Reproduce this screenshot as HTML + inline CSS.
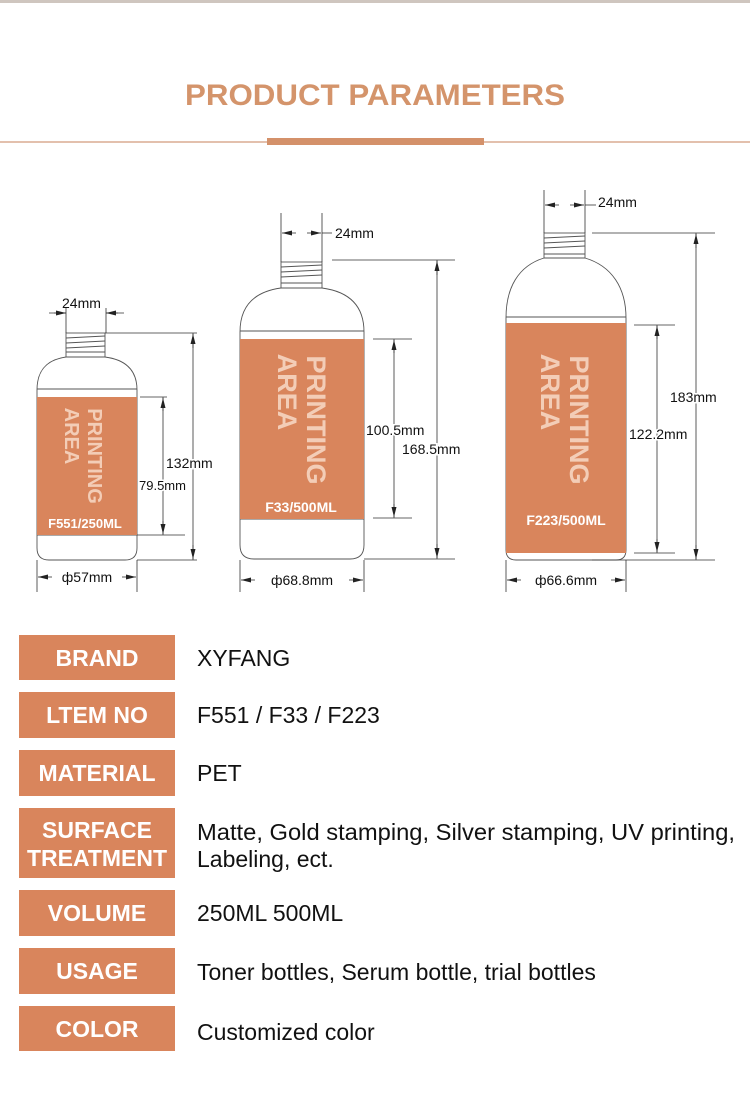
<!DOCTYPE html>
<html><head><meta charset="utf-8"><style>
body{margin:0;width:750px;height:1102px;background:#fff;overflow:hidden;font-family:"Liberation Sans",sans-serif}
</style></head><body>
<svg width="750" height="1102" viewBox="0 0 750 1102" xmlns="http://www.w3.org/2000/svg" font-family="Liberation Sans, sans-serif">
<defs>
<marker id="a" viewBox="0 0 10 5" refX="10" refY="2.5" markerUnits="userSpaceOnUse" markerWidth="10" markerHeight="5" orient="auto-start-reverse"><path d="M0,0 L10,2.5 L0,5 z" fill="#222"/></marker>
</defs>
<rect x="0" y="0" width="750" height="3" fill="#cfc6bf"/>
<text x="375" y="105" text-anchor="middle" font-size="30" font-weight="bold" fill="#d4946b" textLength="380" lengthAdjust="spacingAndGlyphs">PRODUCT  PARAMETERS</text>
<rect x="0" y="141" width="750" height="2" fill="#e3c0ad"/>
<rect x="267" y="138" width="217" height="7" fill="#d4916a"/>

<g stroke="#555" stroke-width="0.9" fill="none">
<rect x="66" y="333" width="39" height="24" fill="#fff"/>
<path d="M66,338 L105,336 M66,343 L105,341 M66,348 L105,346 M66,352 L105,352"/>
<path d="M66,357 C45,360 37,372 37,390 L37,548 Q37,560 49,560 L125,560 Q137,560 137,548 L137,390 C137,372 128,360 105,357 Z" fill="#fff"/>
<line x1="37" y1="389" x2="137" y2="389"/>
<line x1="37" y1="535" x2="137" y2="535"/>
<rect x="281" y="262" width="41" height="26" fill="#fff"/>
<path d="M281,267 L322,265 M281,272 L322,270 M281,277 L322,275 M281,283 L322,283"/>
<path d="M281,288 C252,292 240,308 240,332 L240,545 Q240,559 254,559 L350,559 Q364,559 364,545 L364,332 C364,308 352,292 322,288 Z" fill="#fff"/>
<line x1="240" y1="331" x2="364" y2="331"/>
<line x1="240" y1="519" x2="364" y2="519"/>
<rect x="544" y="233" width="41" height="25" fill="#fff"/>
<path d="M544,238 L585,236 M544,243 L585,241 M544,248 L585,246 M544,254 L585,254"/>
<path d="M544,258 C518,266 506,288 506,318 L506,550 Q506,560 516,560 L616,560 Q626,560 626,550 L626,318 C626,288 612,266 585,258 Z" fill="#fff"/>
<line x1="506" y1="317" x2="626" y2="317"/>
</g>
<rect x="37" y="397" width="100" height="138" fill="#d9855c"/>
<rect x="240" y="339" width="124" height="180" fill="#d9855c"/>
<rect x="506" y="323" width="120" height="230" fill="#d9855c"/>
<g fill="#f3cdb7" font-weight="bold" dominant-baseline="central">
<text transform="translate(94,456) rotate(90)" text-anchor="middle" font-size="20">PRINTING</text>
<text transform="translate(71,436) rotate(90)" text-anchor="middle" font-size="20">AREA</text>
<text transform="translate(316,420) rotate(90)" text-anchor="middle" font-size="27">PRINTING</text>
<text transform="translate(287,392) rotate(90)" text-anchor="middle" font-size="27">AREA</text>
<text transform="translate(579,420) rotate(90)" text-anchor="middle" font-size="27">PRINTING</text>
<text transform="translate(550,392) rotate(90)" text-anchor="middle" font-size="27">AREA</text>
</g>
<g fill="#fff" font-weight="bold" text-anchor="middle">
<text x="85" y="528" font-size="13">F551/250ML</text>
<text x="301" y="512" font-size="14">F33/500ML</text>
<text x="566" y="525" font-size="14">F223/500ML</text>
</g>

<g stroke="#333" stroke-width="0.8" fill="none">
<path d="M66,308 V333 M106,308 V333 M49,313 H66 M106,313 H124"/>
<line x1="54" y1="313" x2="66" y2="313" marker-end="url(#a)"/>
<line x1="118" y1="313" x2="106" y2="313" marker-end="url(#a)"/>
<path d="M105,333 H197 M137,560 H197 M193,333 V560"/>
<line x1="193" y1="348" x2="193" y2="334" marker-end="url(#a)"/>
<line x1="193" y1="545" x2="193" y2="559" marker-end="url(#a)"/>
<path d="M140,397 H167 M137,535 H185 M163,397 V535"/>
<line x1="163" y1="411" x2="163" y2="398" marker-end="url(#a)"/>
<line x1="163" y1="521" x2="163" y2="534" marker-end="url(#a)"/>
<path d="M37,560 V592 M137,560 V592"/>
<line x1="52" y1="577" x2="38" y2="577" marker-end="url(#a)"/>
<line x1="122" y1="577" x2="136" y2="577" marker-end="url(#a)"/>
<path d="M281,213 V262 M322,213 V262"/>
<line x1="296" y1="233" x2="282" y2="233" marker-end="url(#a)"/>
<line x1="307" y1="233" x2="321" y2="233" marker-end="url(#a)"/>
<path d="M322,233 H332"/>
<path d="M332,260 H455 M364,559 H455 M437,260 V559"/>
<line x1="437" y1="275" x2="437" y2="261" marker-end="url(#a)"/>
<line x1="437" y1="544" x2="437" y2="558" marker-end="url(#a)"/>
<path d="M373,339 H412 M373,518 H412 M394,339 V518"/>
<line x1="394" y1="353" x2="394" y2="340" marker-end="url(#a)"/>
<line x1="394" y1="504" x2="394" y2="517" marker-end="url(#a)"/>
<path d="M240,560 V592 M364,560 V592"/>
<line x1="255" y1="580" x2="241" y2="580" marker-end="url(#a)"/>
<line x1="349" y1="580" x2="363" y2="580" marker-end="url(#a)"/>
<path d="M544,190 V233 M585,190 V233"/>
<line x1="559" y1="205" x2="545" y2="205" marker-end="url(#a)"/>
<line x1="570" y1="205" x2="584" y2="205" marker-end="url(#a)"/>
<path d="M585,205 H596"/>
<path d="M592,233 H715 M592,560 H715 M696,233 V560"/>
<line x1="696" y1="248" x2="696" y2="234" marker-end="url(#a)"/>
<line x1="696" y1="545" x2="696" y2="559" marker-end="url(#a)"/>
<path d="M634,325 H675 M634,553 H675 M657,325 V553"/>
<line x1="657" y1="339" x2="657" y2="326" marker-end="url(#a)"/>
<line x1="657" y1="539" x2="657" y2="552" marker-end="url(#a)"/>
<path d="M506,560 V592 M626,560 V592"/>
<line x1="521" y1="580" x2="507" y2="580" marker-end="url(#a)"/>
<line x1="611" y1="580" x2="625" y2="580" marker-end="url(#a)"/>
</g>
<g fill="#111" font-size="14">
<text x="62" y="308">24mm</text>
<text x="166" y="468" style="paint-order:stroke" stroke="#fff" stroke-width="3">132mm</text>
<text x="139" y="490" font-size="13" style="paint-order:stroke" stroke="#fff" stroke-width="3">79.5mm</text>
<text x="87" y="582" text-anchor="middle" style="paint-order:stroke" stroke="#fff" stroke-width="4">ф57mm</text>
<text x="335" y="238">24mm</text>
<text x="366" y="435" style="paint-order:stroke" stroke="#fff" stroke-width="3">100.5mm</text>
<text x="402" y="454" style="paint-order:stroke" stroke="#fff" stroke-width="3">168.5mm</text>
<text x="302" y="585" text-anchor="middle" style="paint-order:stroke" stroke="#fff" stroke-width="4">ф68.8mm</text>
<text x="598" y="207">24mm</text>
<text x="670" y="402" style="paint-order:stroke" stroke="#fff" stroke-width="3">183mm</text>
<text x="629" y="439" style="paint-order:stroke" stroke="#fff" stroke-width="3">122.2mm</text>
<text x="566" y="585" text-anchor="middle" style="paint-order:stroke" stroke="#fff" stroke-width="4">ф66.6mm</text>
</g>

<g fill="#d9855c">
<rect x="19" y="635" width="156" height="45"/>
<rect x="19" y="692" width="156" height="46"/>
<rect x="19" y="750" width="156" height="46"/>
<rect x="19" y="808" width="156" height="70"/>
<rect x="19" y="890" width="156" height="46"/>
<rect x="19" y="948" width="156" height="46"/>
<rect x="19" y="1006" width="156" height="45"/>
</g>
<g fill="#fff" font-size="23" font-weight="bold" text-anchor="middle">
<text x="97" y="666">BRAND</text>
<text x="97" y="723">LTEM NO</text>
<text x="97" y="781">MATERIAL</text>
<text x="97" y="838">SURFACE</text>
<text x="97" y="866" textLength="140" lengthAdjust="spacingAndGlyphs">TREATMENT</text>
<text x="97" y="921">VOLUME</text>
<text x="97" y="979">USAGE</text>
<text x="97" y="1037">COLOR</text>
</g>
<g fill="#111" font-size="23">
<text x="197" y="666">XYFANG</text>
<text x="197" y="723">F551 / F33 / F223</text>
<text x="197" y="781">PET</text>
<text x="197" y="840" textLength="538" lengthAdjust="spacingAndGlyphs">Matte, Gold  stamping, Silver stamping, UV printing,</text>
<text x="197" y="867">Labeling, ect.</text>
<text x="197" y="921">250ML 500ML</text>
<text x="197" y="980">Toner bottles, Serum bottle, trial bottles</text>
<text x="197" y="1040">Customized color</text>
</g>
</svg>
</body></html>
